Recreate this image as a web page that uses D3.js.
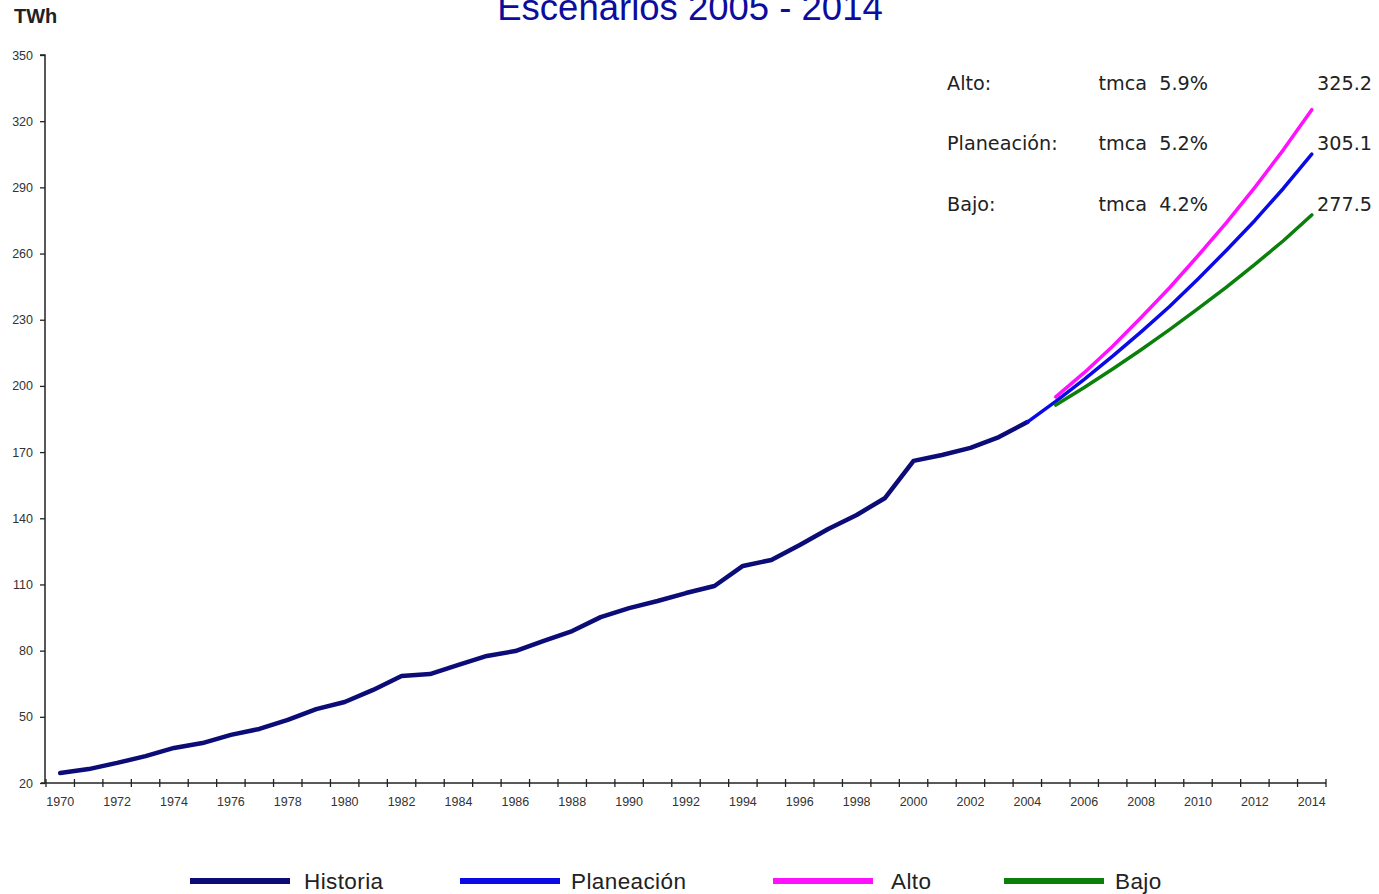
<!DOCTYPE html>
<html>
<head>
<meta charset="utf-8">
<script src="https://cdnjs.cloudflare.com/ajax/libs/d3/7.8.4/d3.min.js"></script>
<style>
  body { margin: 0; background: #fff; }
  svg { display: block; }
</style>
</head>
<body>
<div id="chart"></div>
<script>
// Données (TWh)
const years = d3.range(1970, 2015);
const yTicks = [20, 50, 80, 110, 140, 170, 200, 230, 260, 290, 320, 350];
const xLabelYears = d3.range(1970, 2015, 2);

const historiaYears = d3.range(1970, 2005);
const historia = [24.5, 26.3, 29.1, 32.2, 35.9, 38.1, 41.8, 44.5, 48.6, 53.5,
  56.7, 62.2, 68.5, 69.4, 73.5, 77.6, 79.8, 84.4, 88.9, 95.2,
  99.3, 102.5, 106.1, 109.3, 118.4, 121.1, 127.9, 135.1, 141.5, 149.2,
  166.0, 168.7, 171.9, 176.8, 183.6];

const planeacionYears = d3.range(2004, 2015);
const planeacion = [183.6, 193.0, 203.0, 213.5, 224.5, 236.0, 248.5, 261.5, 275.0, 289.5, 305.1];

const escenarioYears = d3.range(2005, 2015);
const alto = [195.0, 206.0, 218.0, 231.0, 244.5, 259.0, 274.0, 290.0, 307.0, 325.2];
const bajo = [191.3, 199.3, 207.7, 216.4, 225.5, 235.0, 244.8, 255.1, 265.8, 277.5];

const anotNoms = ["Alto:", "Planeación:", "Bajo:"];
const anotTmca = ["tmca  5.9%", "tmca  5.2%", "tmca  4.2%"];
const anotFinal = ["325.2", "305.1", "277.5"];

const legendeNoms = ["Historia", "Planeación", "Alto", "Bajo"];
const legendeCouleurs = ["#0c0c78", "#0a0ae6", "#ff10ff", "#0a800a"];

// SVG
const W = 1379, H = 894;
const svg = d3.select("#chart").append("svg")
  .attr("width", W).attr("height", H)
  .style("font-family", "'Liberation Sans', Arial, sans-serif");

// Echelles
const xScale = d3.scaleBand().domain(years).range([46, 1326]);
const xc = (yr) => xScale(yr) + xScale.bandwidth() / 2;
const yScale = d3.scaleLinear().domain([20, 350]).range([783, 55]);

// Titre (coupé en haut comme dans l'original)
svg.append("text")
  .attr("x", 690).attr("y", 20)
  .attr("text-anchor", "middle")
  .attr("fill", "#0c0c9e")
  .attr("font-size", 36.5)
  .text("Escenarios 2005 - 2014");

svg.append("text")
  .attr("x", 14).attr("y", 23)
  .attr("fill", "#222")
  .attr("font-size", 20)
  .attr("font-weight", "bold")
  .text("TWh");

// Axe Y
const yAxis = d3.axisLeft(yScale).tickValues(yTicks).tickSize(5).tickPadding(7);
const gy = svg.append("g").attr("transform", "translate(45,0)").call(yAxis);
gy.select(".domain").attr("stroke", "#222").attr("stroke-width", 1.5)
  .attr("d", `M-5,${yScale(350)}H0V${yScale(20)}`);
gy.selectAll(".tick line").attr("stroke", "#222").attr("stroke-width", 1.3);
gy.selectAll(".tick text").attr("fill", "#333").attr("font-size", 12.5)
  .style("font-family", "'Liberation Sans', Arial, sans-serif");

// Axe X
const xAxis = d3.axisBottom(xScale).tickValues(xLabelYears).tickSize(0).tickPadding(14);
const gx = svg.append("g").attr("transform", "translate(0,783)").call(xAxis);
gx.select(".domain").attr("stroke", "#222").attr("stroke-width", 1.5)
  .attr("d", "M41,0H1326");
gx.selectAll(".tick text").attr("fill", "#333").attr("font-size", 12.5)
  .style("font-family", "'Liberation Sans', Arial, sans-serif");

// graduations aux limites des catégories
const limites = years.map((d) => xScale(d)).concat([xScale.range()[1]]);
gx.selectAll(".limite").data(limites).enter().append("line")
  .attr("class", "limite")
  .attr("x1", (d) => d).attr("x2", (d) => d)
  .attr("y1", -4).attr("y2", 4)
  .attr("stroke", "#222").attr("stroke-width", 1.3);

// Courbes
const ligne = (ys) => d3.line()
  .x((d, i) => xc(ys[i]))
  .y((d) => yScale(d))
  .curve(d3.curveLinear);

const series = [
  { ys: historiaYears, vals: historia, col: legendeCouleurs[0], w: 4.5 },
  { ys: escenarioYears, vals: alto, col: legendeCouleurs[2], w: 3.5 },
  { ys: planeacionYears, vals: planeacion, col: legendeCouleurs[1], w: 3.5 },
  { ys: escenarioYears, vals: bajo, col: legendeCouleurs[3], w: 3.5 },
];
series.forEach((s) => {
  svg.append("path")
    .datum(s.vals)
    .attr("fill", "none")
    .attr("stroke", s.col)
    .attr("stroke-width", s.w)
    .attr("stroke-linejoin", "round")
    .attr("stroke-linecap", "round")
    .attr("d", ligne(s.ys));
});

// Annotations
const anot = svg.append("g")
  .style("font-family", "'DejaVu Sans', Verdana, sans-serif")
  .attr("font-size", 19.2)
  .attr("fill", "#222");
const rangY = [90, 150, 211];
anotNoms.forEach((n, i) => {
  anot.append("text").attr("x", 947).attr("y", rangY[i]).text(n);
  anot.append("text").attr("x", 1208).attr("y", rangY[i])
    .attr("text-anchor", "end").style("white-space", "pre").text(anotTmca[i]);
  anot.append("text").attr("x", 1372).attr("y", rangY[i])
    .attr("text-anchor", "end").text(anotFinal[i]);
});

// Légende
const legX = [190, 460, 773, 1004];
const legTexteX = [304, 571, 891, 1115];
const leg = svg.append("g");
legendeNoms.forEach((n, i) => {
  leg.append("line")
    .attr("x1", legX[i]).attr("x2", legX[i] + 100)
    .attr("y1", 881).attr("y2", 881)
    .attr("stroke", legendeCouleurs[i]).attr("stroke-width", 6);
  leg.append("text")
    .attr("x", legTexteX[i]).attr("y", 888.5)
    .attr("font-size", 22.5)
    .attr("letter-spacing", 0.4)
    .attr("fill", "#222")
    .text(n);
});
</script>
</body>
</html>
